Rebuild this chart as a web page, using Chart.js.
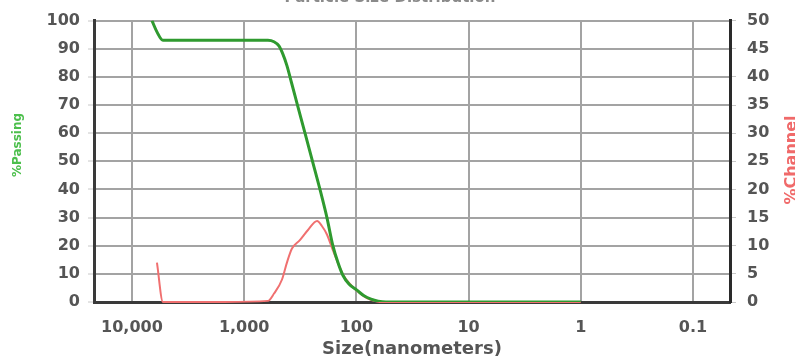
<!DOCTYPE html>
<html>
<head>
<meta charset="utf-8">
<script src="https://cdn.jsdelivr.net/npm/chart.js@4/dist/chart.umd.min.js"></script>
<style>
  html, body { margin: 0; padding: 0; background: #fff; }
  #wrap { width: 795px; height: 360px; }
</style>
</head>
<body>
<div id="wrap"><canvas id="c" width="795" height="360"></canvas></div>
<script>
// Cumulative % passing vs particle size (nm)
const passingSizes  = [6640, 5990, 5300, 4000, 2000, 1000, 614, 543, 490, 451, 416, 379, 335, 287, 246, 211, 183, 162, 146, 132, 116, 99, 85.5, 74, 64, 54.5, 20, 5, 1];
const passingValues = [100,  96,   93,   93,   93,   93,   93,  92.5, 91, 88,  84,  78,  70,  60,  50,  40,  30,  20,  14,  9.5, 6.3, 4.2, 2.2, 1, 0.3, 0, 0, 0, 0];

// % in channel vs particle size (nm)
const channelSizes  = [5990, 5300, 3000, 1500, 614, 542, 460, 416, 375, 319, 270, 224, 203, 183, 162, 131, 114, 99, 80.5, 65.5, 58, 20, 5, 1];
const channelValues = [7,    0,    0,    0,    0.2, 1.5, 4,   7,   9.5, 11,  12.8, 14.4, 13.5, 12, 9.2, 4.8, 3.2, 2, 0.7, 0.1, 0, 0, 0, 0];

const sizeTicks      = [10000, 1000, 100, 10, 1, 0.1];
const sizeTickLabels = ['10,000', '1,000', '100', '10', '1', '0.1'];

const passingPoints = passingSizes.map((s, i) => ({ x: s, y: passingValues[i] }));
const channelPoints = channelSizes.map((s, i) => ({ x: s, y: channelValues[i] }));

const tickFont = { family: 'DejaVu Sans', size: 16, weight: 'bold' };
const gridColor = '#a3a3a3';

// Chart heading (sits at the very top edge) and both vertical axis titles
const extraText = {
  id: 'extraText',
  afterDraw(chart) {
    const ctx = chart.ctx;
    ctx.save();
    ctx.font = 'bold 15px "DejaVu Sans"';
    ctx.fillStyle = '#8a8a8a';
    ctx.textAlign = 'center';
    ctx.textBaseline = 'alphabetic';
    ctx.fillText('Particle Size Distribution', 390, 1.5);
    ctx.restore();

    ctx.save();
    ctx.translate(18, 145);
    ctx.rotate(-Math.PI / 2);
    ctx.font = 'bold 12px "DejaVu Sans"';
    ctx.fillStyle = '#4cbf4c';
    ctx.textAlign = 'center';
    ctx.textBaseline = 'middle';
    ctx.fillText('%Passing', 0, 0);
    ctx.restore();

    ctx.save();
    ctx.translate(792, 160);
    ctx.rotate(-Math.PI / 2);
    ctx.font = 'bold 16px "DejaVu Sans"';
    ctx.fillStyle = '#f06a6a';
    ctx.textAlign = 'center';
    ctx.textBaseline = 'middle';
    ctx.fillText('%Channel', 0, 0);
    ctx.restore();
  }
};

new Chart(document.getElementById('c'), {
  type: 'line',
  data: {
    datasets: [
      {
        label: '%Passing',
        data: passingPoints,
        yAxisID: 'y',
        borderColor: '#2f9a2f',
        borderWidth: 3,
        pointRadius: 0,
        cubicInterpolationMode: 'monotone',
        order: 0
      },
      {
        label: '%Channel',
        data: channelPoints,
        yAxisID: 'y1',
        borderColor: '#f07070',
        borderWidth: 2,
        pointRadius: 0,
        cubicInterpolationMode: 'monotone',
        clip: false,
        order: 1
      }
    ]
  },
  options: {
    responsive: false,
    animation: false,
    layout: { padding: { top: 17, left: 0, right: 0, bottom: 0 } },
    plugins: {
      legend: { display: false },
      tooltip: { enabled: false },
      title: { display: false }
    },
    scales: {
      x: {
        type: 'logarithmic',
        reverse: true,
        min: 0.0468,
        max: 21800,
        position: 'bottom',
        afterBuildTicks: (scale) => { scale.ticks = sizeTicks.map(v => ({ value: v })); },
        afterFit: (scale) => { scale.height = 58; },
        ticks: {
          autoSkip: false,
          maxRotation: 0,
          padding: 16,
          color: '#555',
          font: tickFont,
          callback: (v, i) => sizeTickLabels[i]
        },
        grid: { color: gridColor, lineWidth: 2, drawTicks: false },
        border: { color: '#3a3a3a', width: 3 },
        title: {
          display: true,
          text: 'Size(nanometers)',
          color: '#555',
          font: { family: 'DejaVu Sans', size: 18, weight: 'bold' },
          padding: { top: 1, bottom: 0 }
        }
      },
      y: {
        position: 'left',
        min: 0,
        max: 100,
        afterFit: (scale) => { scale.width = 94; },
        ticks: { stepSize: 10, padding: 8, color: '#555', font: tickFont },
        grid: { color: gridColor, lineWidth: 2, tickLength: 6, tickColor: '#c8c8c8', tickWidth: 1 },
        border: { color: '#3a3a3a', width: 3 }
      },
      y1: {
        position: 'right',
        min: 0,
        max: 50,
        afterFit: (scale) => { scale.width = 65; },
        ticks: { stepSize: 5, padding: 11, color: '#555', font: tickFont },
        grid: { drawOnChartArea: false, tickLength: 6, tickColor: '#c8c8c8', tickWidth: 1 },
        border: { color: '#2a2a2a', width: 3 }
      }
    }
  },
  plugins: [extraText]
});
</script>
</body>
</html>
